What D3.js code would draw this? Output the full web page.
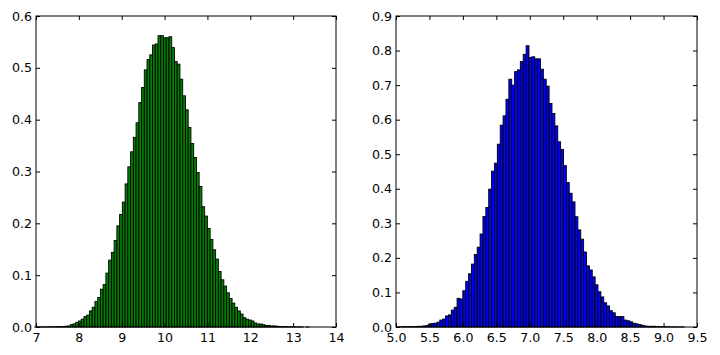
<!DOCTYPE html>
<html>
<head>
<meta charset="utf-8">
<script src="https://cdn.jsdelivr.net/npm/d3@7"></script>
<style>
  html, body { margin: 0; padding: 0; background: #fff; }
  svg { display: block; }
  .tick text { font-family: "DejaVu Sans", sans-serif; font-size: 12.6px; fill: #000; }
</style>
</head>
<body>
<svg id="chart" width="720" height="355"></svg>
<script>
// ---- Data ----
const leftBinStart = 6.967;
const leftBinWidth = 0.064;
const leftDensity = [
  0.0001, 0.0001, 0.0001, 0.0002, 0.0002, 0.0003, 0.0004, 0.0005, 0.0007, 0.001,
  0.001, 0.0015, 0.002, 0.0045, 0.006, 0.009, 0.0116, 0.015, 0.020, 0.023,
  0.031, 0.038, 0.049, 0.057, 0.073, 0.082, 0.104, 0.129, 0.144, 0.167,
  0.195, 0.217, 0.241, 0.276, 0.309, 0.338, 0.366, 0.394, 0.433, 0.462,
  0.496, 0.516, 0.525, 0.544, 0.546, 0.562, 0.562, 0.558, 0.558, 0.560,
  0.539, 0.512, 0.507, 0.478, 0.446, 0.419, 0.385, 0.354, 0.327, 0.298,
  0.271, 0.232, 0.214, 0.190, 0.169, 0.149, 0.131, 0.107, 0.091, 0.079,
  0.066, 0.055, 0.046, 0.038, 0.031, 0.025, 0.018, 0.015, 0.0135, 0.0116,
  0.0077, 0.0058, 0.0058, 0.0045, 0.003, 0.003, 0.002, 0.002, 0.0015, 0.001,
  0.001, 0.0008, 0.0005, 0.0004, 0.0003, 0.0002, 0.0001, 0.0001, 0, 0.0001
];
const leftXTicks = [7, 8, 9, 10, 11, 12, 13, 14];
const leftYTicks = [0, 0.1, 0.2, 0.3, 0.4, 0.5, 0.6];

const rightBinStart = 5.01;
const rightBinWidth = 0.043;
const rightDensity = [
  0.0003, 0.0005, 0.001, 0.001, 0.001, 0.0015, 0.0015, 0.002, 0.002, 0.003,
  0.004, 0.008, 0.010, 0.011, 0.014, 0.020, 0.023, 0.032, 0.035, 0.049,
  0.057, 0.083, 0.081, 0.105, 0.132, 0.154, 0.182, 0.210, 0.231, 0.269,
  0.320, 0.346, 0.399, 0.451, 0.474, 0.529, 0.584, 0.611, 0.659, 0.717,
  0.700, 0.739, 0.744, 0.768, 0.789, 0.814, 0.780, 0.782, 0.776, 0.776,
  0.746, 0.717, 0.697, 0.647, 0.618, 0.582, 0.536, 0.514, 0.467, 0.418,
  0.387, 0.362, 0.319, 0.281, 0.254, 0.217, 0.177, 0.165, 0.145, 0.122,
  0.102, 0.087, 0.070, 0.061, 0.047, 0.041, 0.030, 0.030, 0.030, 0.020,
  0.018, 0.015, 0.011, 0.009, 0.007, 0.005, 0.003, 0.002, 0.002, 0.002,
  0.001, 0.001, 0.001, 0.0008, 0.0005, 0.0003, 0.0002, 0.0001, 0.0001, 0.0001
];
const rightXTicks = [5.0, 5.5, 6.0, 6.5, 7.0, 7.5, 8.0, 8.5, 9.0, 9.5];
const rightYTicks = [0, 0.1, 0.2, 0.3, 0.4, 0.5, 0.6, 0.7, 0.8, 0.9];

// ---- Drawing ----
const svg = d3.select("#chart");

function panel(opts) {
  const { left, top, width, height, binStart, binWidth, density,
          xDomain, yDomain, xTicks, yTicks, xFmt, yFmt, color } = opts;
  const g = svg.append("g").attr("transform", `translate(${left},${top})`);
  const x = d3.scaleLinear().domain(xDomain).range([0, width]);
  const y = d3.scaleLinear().domain(yDomain).range([height, 0]);

  const bins = density.map((v, i) => ({
    x0: binStart + i * binWidth,
    x1: binStart + (i + 1) * binWidth,
    v
  }));

  g.append("g").selectAll("rect").data(bins).join("rect")
    .attr("x", d => x(d.x0))
    .attr("width", d => x(d.x1) - x(d.x0))
    .attr("y", d => y(d.v))
    .attr("height", d => y(0) - y(d.v))
    .attr("fill", color)
    .attr("stroke", "#000")
    .attr("stroke-width", 0.9);

  const tk = 4;
  const xb = g.append("g").attr("transform", `translate(0,${height})`)
    .call(d3.axisBottom(x).tickValues(xTicks).tickFormat(xFmt).tickSize(-tk).tickPadding(6));
  const yl = g.append("g")
    .call(d3.axisLeft(y).tickValues(yTicks).tickFormat(yFmt).tickSize(-tk).tickPadding(4));
  const xt = g.append("g")
    .call(d3.axisTop(x).tickValues(xTicks).tickFormat("").tickSize(-tk));
  const yr = g.append("g").attr("transform", `translate(${width},0)`)
    .call(d3.axisRight(y).tickValues(yTicks).tickFormat("").tickSize(-tk));
  [xb, yl, xt, yr].forEach(a => {
    a.select(".domain").remove();
    a.selectAll(".tick line").attr("stroke", "#000");
  });

  g.append("rect")
    .attr("x", 0).attr("y", 0).attr("width", width).attr("height", height)
    .attr("fill", "none").attr("stroke", "#000").attr("stroke-width", 1);
}

panel({
  left: 36, top: 16, width: 300, height: 311,
  binStart: leftBinStart, binWidth: leftBinWidth, density: leftDensity,
  xDomain: [7, 14], yDomain: [0, 0.6],
  xTicks: leftXTicks, yTicks: leftYTicks,
  xFmt: d3.format("d"), yFmt: d3.format(".1f"), color: "#008000"
});

panel({
  left: 396, top: 16, width: 301, height: 311,
  binStart: rightBinStart, binWidth: rightBinWidth, density: rightDensity,
  xDomain: [5, 9.5], yDomain: [0, 0.9],
  xTicks: rightXTicks, yTicks: rightYTicks,
  xFmt: d3.format(".1f"), yFmt: d3.format(".1f"), color: "#0000ff"
});
</script>
</body>
</html>
